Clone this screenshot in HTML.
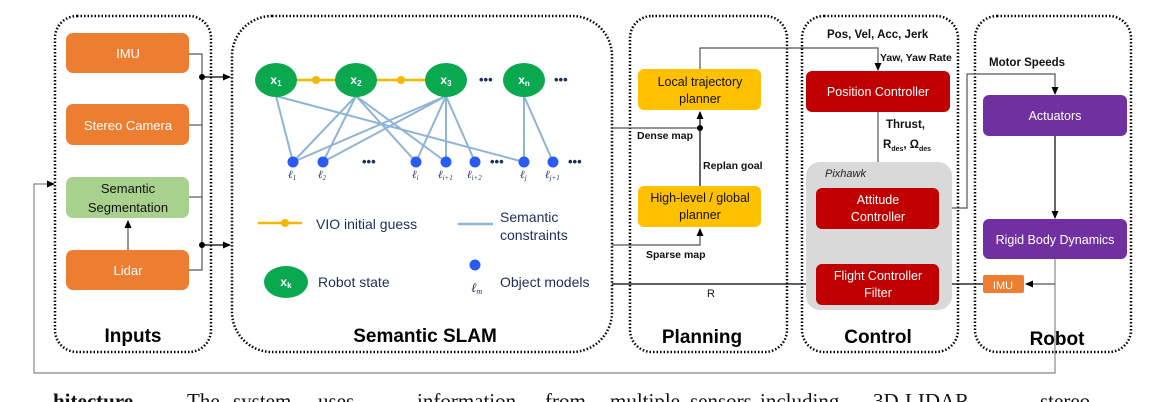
<!DOCTYPE html>
<html><head><meta charset="utf-8"><style>
body{margin:0;background:#fff;width:1167px;height:402px;overflow:hidden;position:relative}
svg{position:absolute;left:0;top:0}
.s{font-family:"Liberation Sans",sans-serif}
.r{font-family:"Liberation Serif",serif}
</style></head><body>
<svg width="1167" height="402" viewBox="0 0 1167 402" class="s">
<defs>
<marker id="a" markerWidth="8" markerHeight="8" refX="7" refY="4" orient="auto" markerUnits="userSpaceOnUse"><path d="M0,0.5 L8,4 L0,7.5z" fill="#000"/></marker>
</defs>
<g fill="none" stroke="#000" stroke-width="2.5" stroke-dasharray="1.5 2">
<rect x="55" y="16" width="156" height="336" rx="22"/>
<rect x="232" y="16" width="380" height="336" rx="40"/>
<rect x="630" y="16" width="157" height="336" rx="22"/>
<rect x="802" y="16" width="156" height="336" rx="22"/>
<rect x="975" y="16" width="156" height="336" rx="22"/>
</g>
<!-- feedback -->
<polyline points="1055,259 1055,373 34,373 34,184 54,184" fill="none" stroke="#888" stroke-width="1.2" marker-end="url(#a)"/>
<!-- inputs -->
<g font-size="13" text-anchor="middle" fill="#fff">
<rect x="66" y="33" width="123" height="40" rx="7" fill="#ed7d31"/><text x="128" y="58">IMU</text>
<rect x="66" y="104" width="123" height="41" rx="7" fill="#ed7d31"/><text x="128" y="130">Stereo Camera</text>
<rect x="66" y="177" width="123" height="41" rx="7" fill="#a9d18e"/><text x="128" y="193" fill="#111">Semantic</text><text x="128" y="212" fill="#111">Segmentation</text>
<rect x="66" y="250" width="123" height="40" rx="7" fill="#ed7d31"/><text x="128" y="275">Lidar</text>
</g>
<g stroke="#555" stroke-width="1.2" fill="none">
<polyline points="189,54 202,54 202,270 189,270"/>
<line x1="189" y1="125" x2="202" y2="125"/>
<line x1="189" y1="197" x2="202" y2="197"/>
<line x1="128" y1="250" x2="128" y2="221" marker-end="url(#a)"/>
</g>
<circle cx="202" cy="77" r="3" fill="#000"/><circle cx="202" cy="245" r="3" fill="#000"/>
<line x1="202" y1="77" x2="230" y2="77" stroke="#000" stroke-width="1.2" marker-end="url(#a)"/>
<line x1="202" y1="245" x2="230" y2="245" stroke="#000" stroke-width="1.2" marker-end="url(#a)"/>
<text x="133" y="342" font-size="19" font-weight="bold" text-anchor="middle">Inputs</text>
<!-- SLAM graph -->
<g stroke="#8eb4d6" stroke-width="2" fill="none">
<path d="M276,96 L293,162 M276,96 L524,162 M356,96 L293,162 M356,96 L323,162 M356,96 L416,162 M356,96 L446,162 M446,96 L293,162 M446,96 L323,162 M446,96 L416,162 M446,96 L446,162 M446,96 L475,162 M524,96 L524,162 M524,96 L553,162"/>
</g>
<line x1="276" y1="80" x2="446" y2="80" stroke="#f5b800" stroke-width="2.5"/>
<circle cx="316" cy="80" r="4" fill="#f5b800"/><circle cx="401" cy="80" r="4" fill="#f5b800"/>
<g fill="#0aa84f"><ellipse cx="276" cy="80" rx="21" ry="17"/><ellipse cx="356" cy="80" rx="21" ry="17"/><ellipse cx="446" cy="80" rx="21" ry="17"/><ellipse cx="524" cy="80" rx="21" ry="17"/></g>
<g fill="#fff" font-size="12" font-weight="bold" text-anchor="middle">
<text x="276" y="84">x<tspan font-size="8" dy="2">1</tspan></text><text x="356" y="84">x<tspan font-size="8" dy="2">2</tspan></text><text x="446" y="84">x<tspan font-size="8" dy="2">3</tspan></text><text x="524" y="84">x<tspan font-size="8" dy="2">n</tspan></text>
</g>
<g fill="#1f2d5a" font-size="13" font-weight="bold"><text x="479" y="84">•••</text><text x="554" y="84">•••</text><text x="362" y="166">•••</text><text x="490" y="166">•••</text><text x="568" y="166">•••</text></g>
<g fill="#2a5cf5"><circle cx="293" cy="162" r="5.5"/><circle cx="323" cy="162" r="5.5"/><circle cx="416" cy="162" r="5.5"/><circle cx="446" cy="162" r="5.5"/><circle cx="475" cy="162" r="5.5"/><circle cx="524" cy="162" r="5.5"/><circle cx="553" cy="162" r="5.5"/></g>
<g fill="#1f2d5a" font-size="11" font-style="italic" class="r">
<text x="288" y="178">ℓ<tspan font-size="7" dy="2">1</tspan></text><text x="318" y="178">ℓ<tspan font-size="7" dy="2">2</tspan></text><text x="412" y="178">ℓ<tspan font-size="7" dy="2">i</tspan></text><text x="438" y="178">ℓ<tspan font-size="7" dy="2">i+1</tspan></text><text x="467" y="178">ℓ<tspan font-size="7" dy="2">i+2</tspan></text><text x="520" y="178">ℓ<tspan font-size="7" dy="2">j</tspan></text><text x="545" y="178">ℓ<tspan font-size="7" dy="2">j+1</tspan></text>
</g>
<!-- legend -->
<line x1="258" y1="223" x2="302" y2="223" stroke="#f5b800" stroke-width="2.5"/><circle cx="285" cy="223" r="4" fill="#f5b800"/>
<line x1="458" y1="224" x2="493" y2="224" stroke="#8eb4d6" stroke-width="2.5"/>
<g fill="#1f2d5a" font-size="14"><text x="316" y="229">VIO initial guess</text><text x="500" y="222">Semantic</text><text x="500" y="240">constraints</text><text x="318" y="287">Robot state</text><text x="500" y="287">Object models</text></g>
<ellipse cx="286" cy="282" rx="22" ry="16" fill="#0aa84f"/><text x="286" y="286" fill="#fff" font-size="12" font-weight="bold" text-anchor="middle">x<tspan font-size="8" dy="2">k</tspan></text>
<circle cx="475" cy="265" r="5.5" fill="#2a5cf5"/><text x="471" y="292" font-size="13" fill="#1f2d5a" font-style="italic" class="r">ℓ<tspan font-size="8" dy="2">m</tspan></text>
<text x="425" y="342" font-size="19" font-weight="bold" text-anchor="middle">Semantic SLAM</text>
<!-- planning -->
<g font-size="12.5" text-anchor="middle" fill="#111">
<rect x="638" y="69" width="123" height="41" rx="6" fill="#ffc000"/><text x="700" y="86">Local trajectory</text><text x="700" y="103">planner</text>
<rect x="638" y="186" width="123" height="41" rx="6" fill="#ffc000"/><text x="700" y="202">High-level / global</text><text x="700" y="219">planner</text>
</g>
<g stroke="#555" stroke-width="1.2" fill="none">
<polyline points="612,128 700,128"/>
<line x1="700" y1="186" x2="700" y2="112" stroke="#000" marker-end="url(#a)"/>
<polyline points="612,245 700,245 700,229" marker-end="url(#a)"/>
<polyline points="700,69 700,48 878,48 878,70" marker-end="url(#a)"/>
<line x1="612" y1="284" x2="815" y2="284" stroke="#000" marker-end="url(#a)"/>
<line x1="878" y1="112" x2="878" y2="187" marker-end="url(#a)"/>
<line x1="878" y1="264" x2="878" y2="231" marker-end="url(#a)"/>
<polyline points="939,208 967,208 967,74 1055,74 1055,94" marker-end="url(#a)"/>
<line x1="1055" y1="136" x2="1055" y2="218" stroke="#000" marker-end="url(#a)"/>
<polyline points="1055,284 1026,284" marker-end="url(#a)"/>
<line x1="983" y1="284" x2="941" y2="284" stroke="#000" marker-end="url(#a)"/>
</g>
<circle cx="700" cy="128" r="3" fill="#000"/>
<g font-size="10.5" font-weight="bold" fill="#111">
<text x="637" y="139">Dense map</text><text x="703" y="169">Replan goal</text><text x="646" y="258">Sparse map</text>
<text x="827" y="38" font-size="11.5">Pos, Vel, Acc, Jerk</text><text x="880" y="61">Yaw, Yaw Rate</text>
<text x="886" y="128" font-size="11.5">Thrust,</text><text x="883" y="148" font-size="11.5">R<tspan font-size="7" dy="3">des</tspan><tspan dy="-3">, Ω</tspan><tspan font-size="7" dy="3">des</tspan></text>
<text x="890" y="250" font-size="11.5">R<tspan font-size="7" dy="3">est</tspan><tspan dy="-3">, Ω</tspan><tspan font-size="7" dy="3">est</tspan></text>
<text x="989" y="66" font-size="11.5">Motor Speeds</text>
</g>
<text x="707" y="297" font-size="11" fill="#111">R</text>
<text x="702" y="343" font-size="19" font-weight="bold" text-anchor="middle">Planning</text>
<!-- control -->
<rect x="806" y="162" width="146" height="148" rx="14" fill="#d9d9d9"/>
<text x="825" y="177" font-size="11" font-style="italic" fill="#222">Pixhawk</text>
<g font-size="12.5" text-anchor="middle" fill="#fff">
<rect x="806" y="71" width="144" height="41" rx="6" fill="#c00000"/><text x="878" y="96">Position Controller</text>
<rect x="816" y="188" width="123" height="41" rx="6" fill="#c00000"/><text x="878" y="204">Attitude</text><text x="878" y="221">Controller</text>
<rect x="816" y="264" width="123" height="41" rx="6" fill="#c00000"/><text x="878" y="280">Flight Controller</text><text x="878" y="297">Filter</text>
<rect x="983" y="95" width="144" height="41" rx="6" fill="#7030a0"/><text x="1055" y="120">Actuators</text>
<rect x="983" y="219" width="144" height="40" rx="6" fill="#7030a0"/><text x="1055" y="244">Rigid Body Dynamics</text>
<rect x="983" y="275" width="41" height="18" rx="2" fill="#ed7d31"/><text x="1003" y="289" font-size="11">IMU</text>
</g>
<text x="878" y="343" font-size="19" font-weight="bold" text-anchor="middle">Control</text>
<text x="1057" y="345" font-size="19" font-weight="bold" text-anchor="middle">Robot</text>
<g font-size="21" class="r" fill="#111">
<text x="53" y="408" font-weight="bold">hitecture.</text>
<text x="187" y="408">The</text><text x="233" y="408">system</text><text x="318" y="408">uses</text>
<text x="417" y="408">information</text><text x="545" y="408">from</text><text x="610" y="408">multiple</text>
<text x="690" y="408">sensors</text><text x="760" y="408">including</text><text x="873" y="408">3D</text>
<text x="905" y="408">LIDAR,</text><text x="1040" y="408">stereo</text>
</g>
</svg>
</body></html>
